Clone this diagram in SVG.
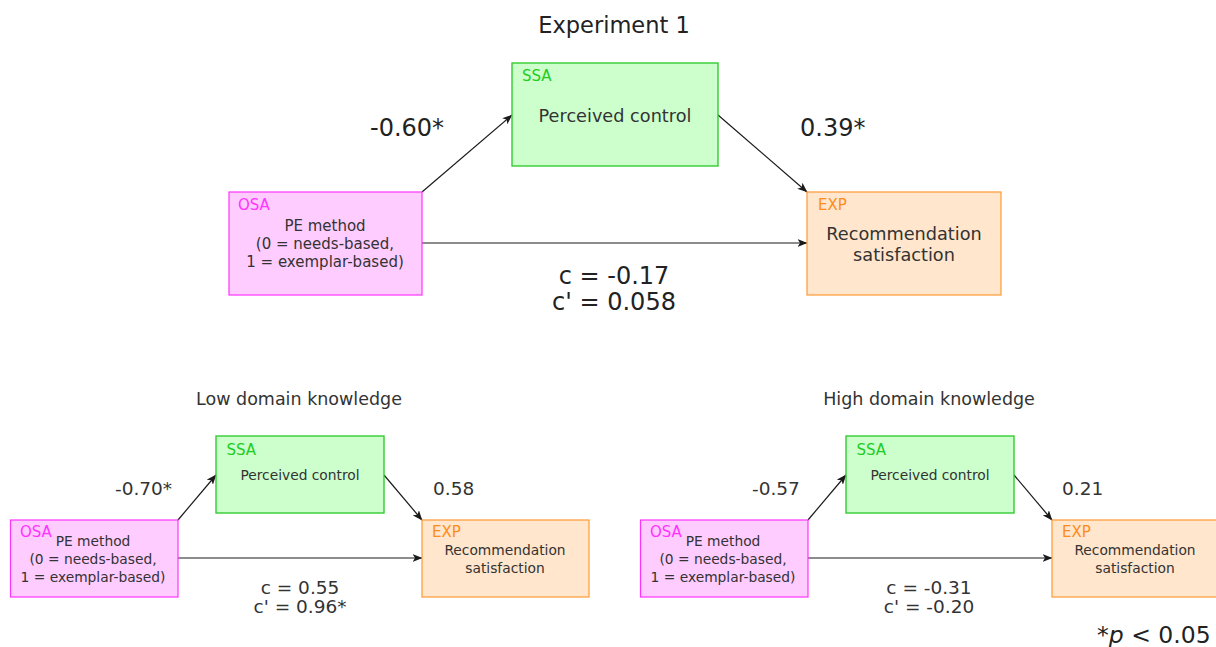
<svg xmlns="http://www.w3.org/2000/svg" width="1216" height="647" viewBox="0 0 1216 647">
  <style>
    text { font-family: "DejaVu Sans", Verdana, sans-serif; fill: #333333; }
    .osa rect { fill: #FFCCFF; stroke: #FF33FF; stroke-width: 1.2; }
    .ssa rect { fill: #CCFFCC; stroke: #33CC33; stroke-width: 1.4; }
    .exp rect { fill: #FFE6CC; stroke: #FF9933; stroke-width: 1.2; }
    .osa .tag { fill: #FF33FF; }
    .ssa .tag { fill: #22CC22; }
    .exp .tag { fill: #FF8C1A; }
    .tag { font-size: 15px; }
    .body { font-size: 15px; fill: #333333; }
    .big { font-size: 17.7px; }
    .small { font-size: 13.8px; }
    .mid { text-anchor: middle; }
    .coef { font-size: 24px; fill: #222222; }
    .coef-s { font-size: 18.5px; fill: #333333; }
    .title { font-size: 22.5px; fill: #222222; }
    .sub { font-size: 17.5px; fill: #333333; }
    .edge { stroke: #1a1a1a; stroke-width: 1.2; fill: none; marker-end: url(#arrow); }
  </style>
  <defs>
    <marker id="arrow" viewBox="0 0 10 8" refX="9.5" refY="4" markerWidth="10" markerHeight="8" markerUnits="userSpaceOnUse" orient="auto">
      <path d="M0,0 L10,4 L0,8 L2.5,4 z" fill="#1a1a1a"/>
    </marker>
  </defs>

  <rect width="1216" height="647" fill="#ffffff"/>

  <!-- Experiment 1 -->
  <text class="title mid" x="614" y="33">Experiment 1</text>

  <g id="connectors">
    <line class="edge" x1="422" y1="192" x2="512" y2="115"/>
    <line class="edge" x1="718" y1="115" x2="807" y2="192"/>
    <line class="edge" x1="422" y1="243" x2="807" y2="243"/>

    <line class="edge" x1="178" y1="520" x2="216" y2="475"/>
    <line class="edge" x1="384" y1="475" x2="422" y2="520"/>
    <line class="edge" x1="178" y1="558" x2="422" y2="558"/>

    <line class="edge" x1="808" y1="520" x2="846" y2="475"/>
    <line class="edge" x1="1014" y1="475" x2="1052" y2="520"/>
    <line class="edge" x1="808" y1="558" x2="1052" y2="558"/>
  </g>

  <g id="e1-osa" class="osa">
    <rect x="229" y="192" width="193" height="103"/>
    <text class="tag" x="238" y="210">OSA</text>
    <text class="body mid" x="325" y="231">PE method</text>
    <text class="body mid" x="325" y="249">(0 = needs-based,</text>
    <text class="body mid" x="325" y="267">1 = exemplar-based)</text>
  </g>

  <g id="e1-ssa" class="ssa">
    <rect x="512" y="63" width="206" height="103"/>
    <text class="tag" x="522" y="81">SSA</text>
    <text class="big mid" x="615" y="122">Perceived control</text>
  </g>

  <g id="e1-exp" class="exp">
    <rect x="807" y="192" width="194" height="103"/>
    <text class="tag" x="818" y="210">EXP</text>
    <text class="big mid" x="904" y="240">Recommendation</text>
    <text class="big mid" x="904" y="261">satisfaction</text>
  </g>

  <g id="e1-labels">
    <text class="coef" x="370" y="136">-0.60*</text>
    <text class="coef" x="800" y="136">0.39*</text>
    <text class="coef mid" x="614" y="284">c = -0.17</text>
    <text class="coef mid" x="614" y="310">c' = 0.058</text>
  </g>

  <!-- Low domain knowledge -->
  <text class="sub mid" x="299" y="405">Low domain knowledge</text>

  <g id="low-osa" class="osa">
    <rect x="10.5" y="520" width="167.5" height="77"/>
    <text class="tag" x="20" y="537">OSA</text>
    <text class="small mid" x="93" y="546">PE method</text>
    <text class="small mid" x="93" y="564">(0 = needs-based,</text>
    <text class="small mid" x="93" y="582">1 = exemplar-based)</text>
  </g>

  <g id="low-ssa" class="ssa">
    <rect x="216" y="436" width="168" height="77"/>
    <text class="tag" x="226.5" y="455">SSA</text>
    <text class="small mid" x="300" y="480">Perceived control</text>
  </g>

  <g id="low-exp" class="exp">
    <rect x="422" y="520" width="167" height="77"/>
    <text class="tag" x="432" y="537">EXP</text>
    <text class="small mid" x="505" y="555">Recommendation</text>
    <text class="small mid" x="505" y="573">satisfaction</text>
  </g>

  <g id="low-labels">
    <text class="coef-s" x="115" y="495">-0.70*</text>
    <text class="coef-s" x="433" y="495">0.58</text>
    <text class="coef-s mid" x="300" y="594">c = 0.55</text>
    <text class="coef-s mid" x="300" y="613">c' = 0.96*</text>
  </g>

  <!-- High domain knowledge -->
  <text class="sub mid" x="929" y="405">High domain knowledge</text>

  <g id="high-osa" class="osa">
    <rect x="640.5" y="520" width="167.5" height="77"/>
    <text class="tag" x="650" y="537">OSA</text>
    <text class="small mid" x="723" y="546">PE method</text>
    <text class="small mid" x="723" y="564">(0 = needs-based,</text>
    <text class="small mid" x="723" y="582">1 = exemplar-based)</text>
  </g>

  <g id="high-ssa" class="ssa">
    <rect x="846" y="436" width="168" height="77"/>
    <text class="tag" x="856.5" y="455">SSA</text>
    <text class="small mid" x="930" y="480">Perceived control</text>
  </g>

  <g id="high-exp" class="exp">
    <rect x="1052" y="520" width="167" height="77"/>
    <text class="tag" x="1062" y="537">EXP</text>
    <text class="small mid" x="1135" y="555">Recommendation</text>
    <text class="small mid" x="1135" y="573">satisfaction</text>
  </g>

  <g id="high-labels">
    <text class="coef-s" x="752" y="495">-0.57</text>
    <text class="coef-s" x="1062" y="495">0.21</text>
    <text class="coef-s mid" x="929" y="594">c = -0.31</text>
    <text class="coef-s mid" x="929" y="613">c' = -0.20</text>
  </g>

  <text class="coef" x="1097" y="643" style="font-size:23.5px">*<tspan font-style="italic">p</tspan> &lt; 0.05</text>
</svg>
